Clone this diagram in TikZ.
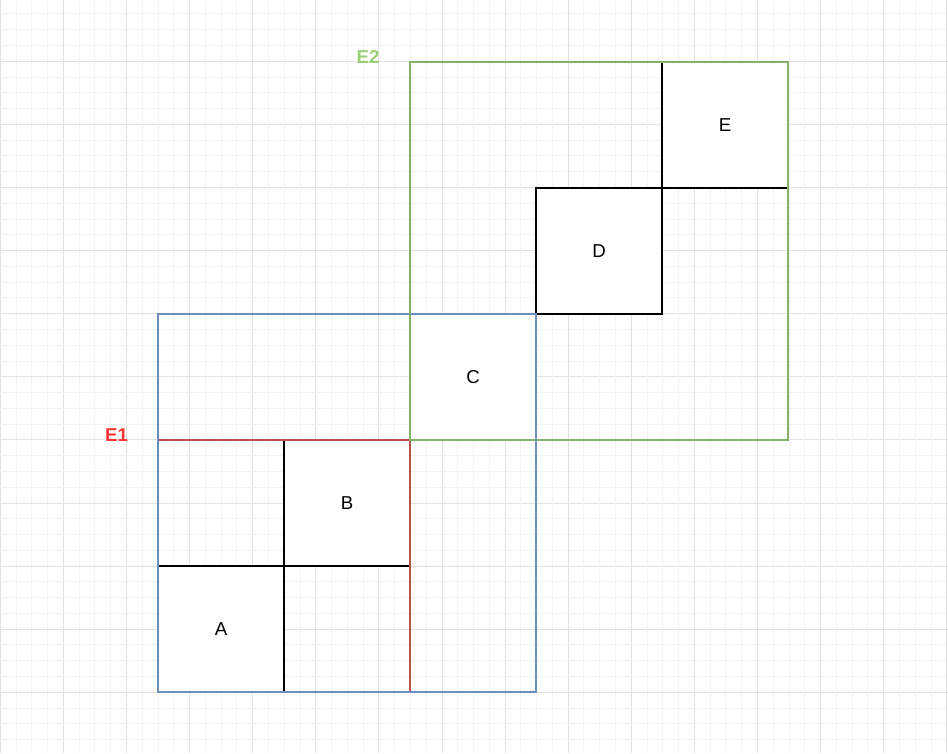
\documentclass[tikz,border=0pt]{standalone}
\usepackage{fontspec}
\setmainfont{Liberation Sans}
\definecolor{gridminor}{HTML}{F3F3F3}
\definecolor{gridmajor}{HTML}{E2E2E2}
\definecolor{redstroke}{HTML}{B85450}
\definecolor{bluestroke}{HTML}{6C8EBF}
\definecolor{greenstroke}{HTML}{82B366}
\definecolor{redlabel}{HTML}{FF3333}
\definecolor{greenlabel}{HTML}{97D077}
\tikzset{
  x=0.75pt, y=-0.75pt,
  cell/.style={draw=black, fill=white, line width=1.1pt, rectangle, inner sep=0pt,
    minimum width=94.5pt, minimum height=94.5pt, font=\fontsize{14}{16}\selectfont},
  region/.style={rectangle, inner sep=0pt, line width=1.1pt, fill=none},
  grouplabel/.style={font=\fontsize{14}{16}\selectfont\bfseries, inner sep=0pt}
}
\begin{document}
\begin{tikzpicture}
\useasboundingbox (0,0) rectangle (948,753);
\fill[white] (0,0) rectangle (948,753);
% grid
\foreach \i in {0,...,60} {
  \pgfmathsetmacro{\gx}{0.3+15.775*\i}
  \pgfmathsetmacro{\gy}{-1.8+15.775*\i}
  \pgfmathtruncatemacro{\m}{mod(\i,4)}
  \ifnum\m=0
    \draw[gridmajor, line width=0.75pt] (\gx,0) -- (\gx,753);
    \draw[gridmajor, line width=0.75pt] (0,\gy) -- (948,\gy);
  \else
    \draw[gridminor, line width=0.75pt] (\gx,0) -- (\gx,753);
    \draw[gridminor, line width=0.75pt] (0,\gy) -- (948,\gy);
  \fi
}
% cells
\node[cell] (A) at (221,629) {A};
\node[cell] (B) at (347,503) {B};
\node[cell] (C) at (473,377) {C};
\node[cell] (D) at (599,251) {D};
\node[cell] (E) at (725,125) {E};
% regions
\draw[region, redstroke] (158,440) rectangle (410,692);
\draw[region, bluestroke] (158,314) rectangle (536,692);
\draw[region, greenstroke] (410,62) rectangle (788,440);
% labels
\node[grouplabel, text=redlabel] (E1) at (116.5,435.5) {E1};
\node[grouplabel, text=greenlabel] (E2) at (368,57) {E2};
\end{tikzpicture}
\end{document}
